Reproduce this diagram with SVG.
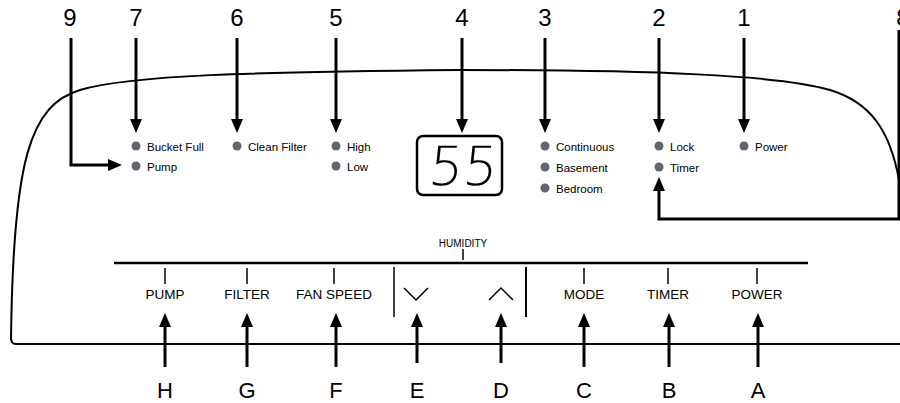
<svg xmlns="http://www.w3.org/2000/svg" width="900" height="403" viewBox="0 0 900 403">
<style>
.num{font-family:"Liberation Sans",Arial,sans-serif;font-size:24px;fill:#000;text-anchor:middle}
.let{font-family:"Liberation Sans",Arial,sans-serif;font-size:22px;fill:#000;text-anchor:middle}
.led{fill:#5f6770}
.lt{font-family:"Liberation Sans",Arial,sans-serif;font-size:11.5px;fill:#000}
.btn{font-family:"Liberation Sans",Arial,sans-serif;font-size:13.5px;fill:#000;text-anchor:middle}
.arr{fill:none;stroke:#000;stroke-width:3;marker-end:url(#ah)}
.tick{stroke:#000;stroke-width:1.5}
.outline{fill:none;stroke:#000;stroke-width:2}
</style>
<defs>
<marker id="ah" viewBox="0 0 14 12" refX="3" refY="6" markerWidth="14" markerHeight="12" markerUnits="userSpaceOnUse" orient="auto">
<path d="M0,0 L14,6 L0,12 z" fill="#000"/>
</marker>
</defs>
<rect width="900" height="403" fill="#fff"/>
<g id="body">
<path class="outline" d="M11,340 C13,160 30,105 80,90 C130,75 250,72 460,70 C650,70 780,75 830,90 C870,102 890,130 899,180"/>
<path class="outline" d="M11,338 Q11,344 16,344 L900,344"/>
<line x1="114" y1="263" x2="808" y2="263" stroke="#000" stroke-width="2.5"/>
<line x1="394" y1="267" x2="394" y2="317" stroke="#000" stroke-width="1.5"/>
<line x1="526" y1="267" x2="526" y2="317" stroke="#000" stroke-width="2"/>
</g>
<g id="display">
<rect x="417" y="136" width="85" height="59" rx="6" fill="#fff" stroke="#000" stroke-width="2.5"/>
<text x="462" y="185" font-family="DejaVu Sans, sans-serif" font-weight="200" font-size="54" text-anchor="middle" transform="skewX(-6) translate(19,0)">55</text>
</g>
<g id="leds">
<circle class="led" cx="136" cy="146" r="4.5"/><text class="lt" x="147" y="150.5">Bucket Full</text>
<circle class="led" cx="136" cy="166" r="4.5"/><text class="lt" x="147" y="170.5">Pump</text>
<circle class="led" cx="237" cy="146" r="4.5"/><text class="lt" x="248" y="150.5">Clean Filter</text>
<circle class="led" cx="336" cy="146" r="4.5"/><text class="lt" x="347" y="150.5">High</text>
<circle class="led" cx="336" cy="166" r="4.5"/><text class="lt" x="347" y="170.5">Low</text>
<circle class="led" cx="545" cy="146" r="4.5"/><text class="lt" x="556" y="150.5">Continuous</text>
<circle class="led" cx="545" cy="167" r="4.5"/><text class="lt" x="556" y="171.5">Basement</text>
<circle class="led" cx="545" cy="188" r="4.5"/><text class="lt" x="556" y="192.5">Bedroom</text>
<circle class="led" cx="659" cy="146" r="4.5"/><text class="lt" x="670" y="150.5">Lock</text>
<circle class="led" cx="659" cy="167" r="4.5"/><text class="lt" x="670" y="171.5">Timer</text>
<circle class="led" cx="744" cy="146" r="4.5"/><text class="lt" x="755" y="150.5">Power</text>
</g>
<g id="buttons">
<text x="463" y="247" font-family="Liberation Sans, Arial, sans-serif" font-size="10" text-anchor="middle">HUMIDITY</text>
<line class="tick" x1="463" y1="249" x2="463" y2="260"/>
<line class="tick" x1="165" y1="268" x2="165" y2="284"/><text class="btn" x="165" y="299">PUMP</text>
<line class="tick" x1="247" y1="268" x2="247" y2="284"/><text class="btn" x="247" y="299">FILTER</text>
<line class="tick" x1="334" y1="268" x2="334" y2="284"/><text class="btn" x="334" y="299">FAN SPEED</text>
<polyline points="404,288 416,300 428,288" fill="none" stroke="#000" stroke-width="1.5"/>
<polyline points="489,300 501,288 513,300" fill="none" stroke="#000" stroke-width="1.5"/>
<line class="tick" x1="584" y1="268" x2="584" y2="284"/><text class="btn" x="584" y="299">MODE</text>
<line class="tick" x1="668" y1="268" x2="668" y2="284"/><text class="btn" x="668" y="299">TIMER</text>
<line class="tick" x1="757" y1="268" x2="757" y2="284"/><text class="btn" x="757" y="299">POWER</text>
</g>
<g id="labels">
<text class="num" x="70" y="26">9</text>
<text class="num" x="136" y="26">7</text>
<text class="num" x="237" y="26">6</text>
<text class="num" x="336" y="26">5</text>
<text class="num" x="462" y="26">4</text>
<text class="num" x="545" y="26">3</text>
<text class="num" x="659" y="26">2</text>
<text class="num" x="744" y="26">1</text>
<text class="num" x="903" y="26">8</text>
<text class="let" x="165" y="398">H</text>
<text class="let" x="247" y="398">G</text>
<text class="let" x="336" y="398">F</text>
<text class="let" x="417" y="398">E</text>
<text class="let" x="501" y="398">D</text>
<text class="let" x="584" y="398">C</text>
<text class="let" x="669" y="398">B</text>
<text class="let" x="758" y="398">A</text>
</g>
<g id="connectors">
<polyline class="arr" points="71,38 71,165 111,165"/>
<line class="arr" x1="136" y1="38" x2="136" y2="122"/>
<line class="arr" x1="237" y1="38" x2="237" y2="122"/>
<line class="arr" x1="336" y1="38" x2="336" y2="122"/>
<line class="arr" x1="462" y1="38" x2="462" y2="122"/>
<line class="arr" x1="545" y1="38" x2="545" y2="122"/>
<line class="arr" x1="659" y1="38" x2="659" y2="122"/>
<line class="arr" x1="744" y1="38" x2="744" y2="122"/>
<polyline class="arr" points="899,30 899,219 659,219 659,188"/>
<line class="arr" x1="165" y1="367" x2="165" y2="324"/>
<line class="arr" x1="247" y1="367" x2="247" y2="324"/>
<line class="arr" x1="336" y1="367" x2="336" y2="324"/>
<line class="arr" x1="417" y1="363" x2="417" y2="324"/>
<line class="arr" x1="501" y1="363" x2="501" y2="324"/>
<line class="arr" x1="584" y1="367" x2="584" y2="324"/>
<line class="arr" x1="669" y1="367" x2="669" y2="324"/>
<line class="arr" x1="758" y1="367" x2="758" y2="324"/>
</g>
</svg>
